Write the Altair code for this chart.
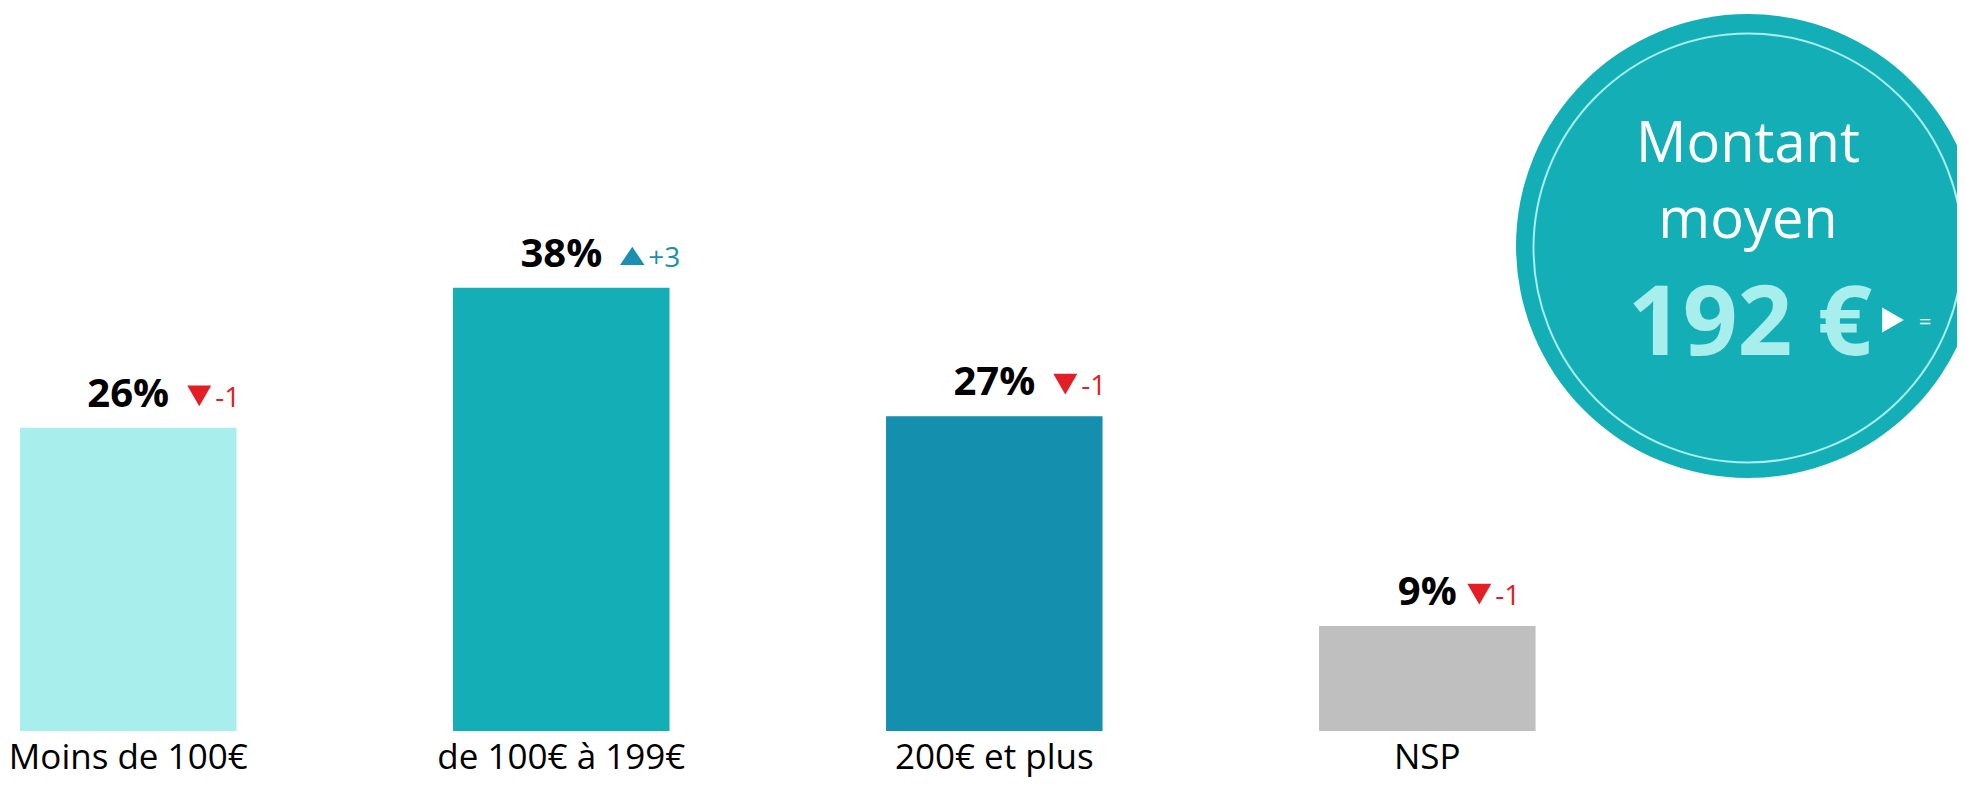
import altair as alt
import pandas as pd

# ---- data ----
categories = ["Moins de 100€", "de 100€ à 199€", "200€ et plus", "NSP"]
values = [26, 38, 27, 9]
deltas = [-1, 3, -1, -1]
bar_colors = ["#a8eeec", "#14afb6", "#158fae", "#bfbfbf"]

mean_title = ["Montant", "moyen"]
mean_value = 192
mean_delta = "="

FONT = "Open Sans"
RED = "#e31e24"
BLUE = "#1a8fb0"
TEAL = "#14afb6"
LIGHT = "#a8eeec"

df = pd.DataFrame({"cat": categories, "val": values, "delta": deltas})
df["pct"] = df["val"].astype(str) + "%"
df["dtext"] = df["delta"].map(lambda d: f"+{d}" if d > 0 else (str(d) if d < 0 else "="))

x = alt.X(
    "cat:N",
    sort=categories,
    scale=alt.Scale(paddingInner=0.5, paddingOuter=0.5005, align=0.0277),
    axis=alt.Axis(
        title=None, labelAngle=0, labelFont=FONT, labelFontSize=35,
        labelColor="black", labelBaseline="alphabetic", labelPadding=37,
        ticks=False, tickSize=0, domain=False, grid=False, labelLimit=0,
    ),
)
y = alt.Y("val:Q", scale=alt.Scale(domain=[0, 62]), axis=None)

base = alt.Chart(df)
bars = base.mark_bar().encode(
    x=x, y=y,
    color=alt.Color("cat:N", scale=alt.Scale(domain=categories, range=bar_colors), legend=None),
)
pct = base.mark_text(
    font=FONT, fontSize=40, fontWeight="bold", baseline="alphabetic",
    align="center", dy=-21, color="black",
).encode(x=x, y=y, text="pct:N")

UP = "M-1,0.75L1,0.75L0,-0.75Z"
layers = [bars, pct]
for _, row in df.iterrows():
    n = len(row["pct"])
    left = 19 * n + 2
    d = row["delta"]
    if d > 0:
        col, shape, size = BLUE, UP, 600
    elif d < 0:
        col, shape, size = RED, "triangle-down", 576
    else:
        col, shape, size = "white", "triangle-right", 625
    sub = alt.Chart(df).transform_filter(alt.datum.cat == row["cat"])
    tri = sub.mark_point(
        shape=shape, filled=True, opacity=1, color=col, size=size,
        xOffset=left + 12, yOffset=-32,
    ).encode(x=x, y=y)
    txt = sub.mark_text(
        font=FONT, fontSize=28, baseline="alphabetic", align="left",
        dx=left + 28, dy=-21, color=col,
    ).encode(x=x, y=y, text="dtext:N")
    layers += [tri, txt]

ann = pd.DataFrame({"k": [0]})
CX, CY = 1740, 238
circ = alt.Chart(ann).mark_point(
    shape="circle", filled=True, opacity=1, color=TEAL, size=464 ** 2
).encode(x=alt.value(CX), y=alt.value(CY))
ring = alt.Chart(ann).mark_point(
    shape="circle", filled=False, opacity=1, stroke=LIGHT, strokeWidth=2, size=429 ** 2
).encode(x=alt.value(CX), y=alt.value(CY + 2))
title = alt.Chart(ann).mark_text(
    text=mean_title, font=FONT, fontSize=56, color="white", align="center",
    baseline="alphabetic", lineHeight=76,
).encode(x=alt.value(CX), y=alt.value(154))
value = alt.Chart(ann).mark_text(
    text=f"{mean_value} €", font=FONT, fontSize=96, fontWeight="bold", color=LIGHT,
    align="center", baseline="alphabetic",
).encode(x=alt.value(CX + 2), y=alt.value(347))
arrow = alt.Chart(ann).mark_point(
    shape="triangle-right", filled=True, opacity=1, color="white", size=625
).encode(x=alt.value(1885), y=alt.value(312))
eq = alt.Chart(ann).mark_text(
    text=mean_delta, font=FONT, fontSize=22, color="white", align="center", baseline="middle",
).encode(x=alt.value(1917), y=alt.value(314))

layers += [circ, ring, title, value, arrow, eq]

chart = alt.layer(*layers).properties(
    width=1949, height=723,
    autosize=alt.AutoSizeParams(type="none"),
    padding={"left": 0, "right": 0, "top": 0, "bottom": 48},
    background="white",
).configure_view(stroke=None)

chart.save("out.html", embed_options={"renderer": "svg", "actions": False})
